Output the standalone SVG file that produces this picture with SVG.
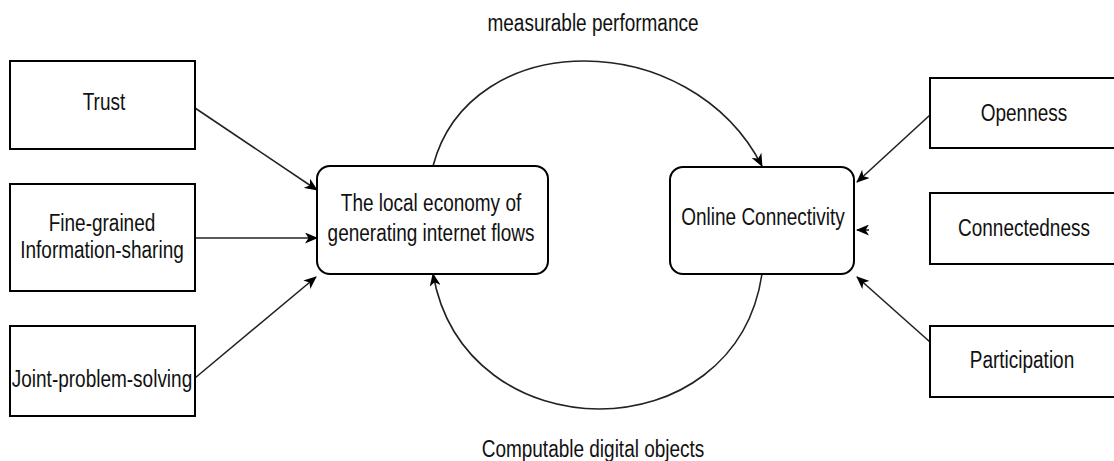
<svg xmlns="http://www.w3.org/2000/svg" width="1114" height="461" viewBox="0 0 1114 461">
  <style>
    .box { fill: #ffffff; stroke: #000000; stroke-width: 2; }
    .hub { fill: #ffffff; stroke: #000000; stroke-width: 2; }
    .lbl { font-family: "Liberation Sans", Arial, sans-serif; font-size: 19px; fill: #111111; text-anchor: middle; }
    .edge { fill: none; stroke: #222222; stroke-width: 1.6; marker-end: url(#arrow); }
  </style>
  <defs>
    <marker id="arrow" viewBox="0 0 13 11" refX="12" refY="5.5" markerWidth="13" markerHeight="11" markerUnits="userSpaceOnUse" orient="auto">
      <path d="M0,0 L13,5.5 L0,11 L3.5,5.5 Z" fill="#000000"/>
    </marker>
  </defs>

  <rect width="1114" height="461" fill="#ffffff"/>

  <!-- connectors -->
  <g id="connectors">
    <path class="edge" d="M195,108 L317,190"/>
    <path class="edge" d="M195,238 L317,238"/>
    <path class="edge" d="M195,378 L316,277"/>
    <path class="edge" d="M433,166 C470,26 690,26 762,166"/>
    <path class="edge" d="M762,274 C735,454 465,454 433,274"/>
    <path class="edge" d="M930,115 L857,182"/>
    <path class="edge" d="M869,230 L857,230"/>
    <path class="edge" d="M930,342 L857,277"/>
  </g>

  <!-- edge labels -->
  <text class="lbl" transform="translate(593,31) scale(1,1.3)">measurable performance</text>
  <text class="lbl" transform="translate(593,457) scale(1,1.3)">Computable digital objects</text>

  <g id="trust">
    <rect class="box" x="10" y="61" width="185" height="88"/>
    <text class="lbl" transform="translate(104,110) scale(1,1.3)">Trust</text>
  </g>
  <g id="info-sharing">
    <rect class="box" x="10" y="184" width="185" height="107"/>
    <text class="lbl" transform="translate(102,231) scale(1,1.3)">Fine-grained</text>
    <text class="lbl" transform="translate(102,258) scale(1,1.3)">Information-sharing</text>
  </g>
  <g id="joint-problem-solving">
    <rect class="box" x="10" y="326" width="185" height="90"/>
    <text class="lbl" transform="translate(102,387) scale(1,1.3)">Joint-problem-solving</text>
  </g>

  <g id="local-economy">
    <rect class="hub" x="317" y="166" width="231" height="108" rx="13" ry="13"/>
    <text class="lbl" transform="translate(431,211) scale(1,1.3)">The local economy of</text>
    <text class="lbl" transform="translate(431,241) scale(1,1.3)">generating internet flows</text>
  </g>
  <g id="online-connectivity">
    <rect class="hub" x="670" y="167" width="184" height="107" rx="13" ry="13"/>
    <text class="lbl" transform="translate(763,225) scale(1,1.3)">Online Connectivity</text>
  </g>

  <g id="openness">
    <rect class="box" x="930" y="78" width="190" height="70"/>
    <text class="lbl" transform="translate(1024,121) scale(1,1.3)">Openness</text>
  </g>
  <g id="connectedness">
    <rect class="box" x="930" y="193" width="190" height="71"/>
    <text class="lbl" transform="translate(1024,236) scale(1,1.3)">Connectedness</text>
  </g>
  <g id="participation">
    <rect class="box" x="930" y="326" width="190" height="71"/>
    <text class="lbl" transform="translate(1022,368) scale(1,1.3)">Participation</text>
  </g>
</svg>
